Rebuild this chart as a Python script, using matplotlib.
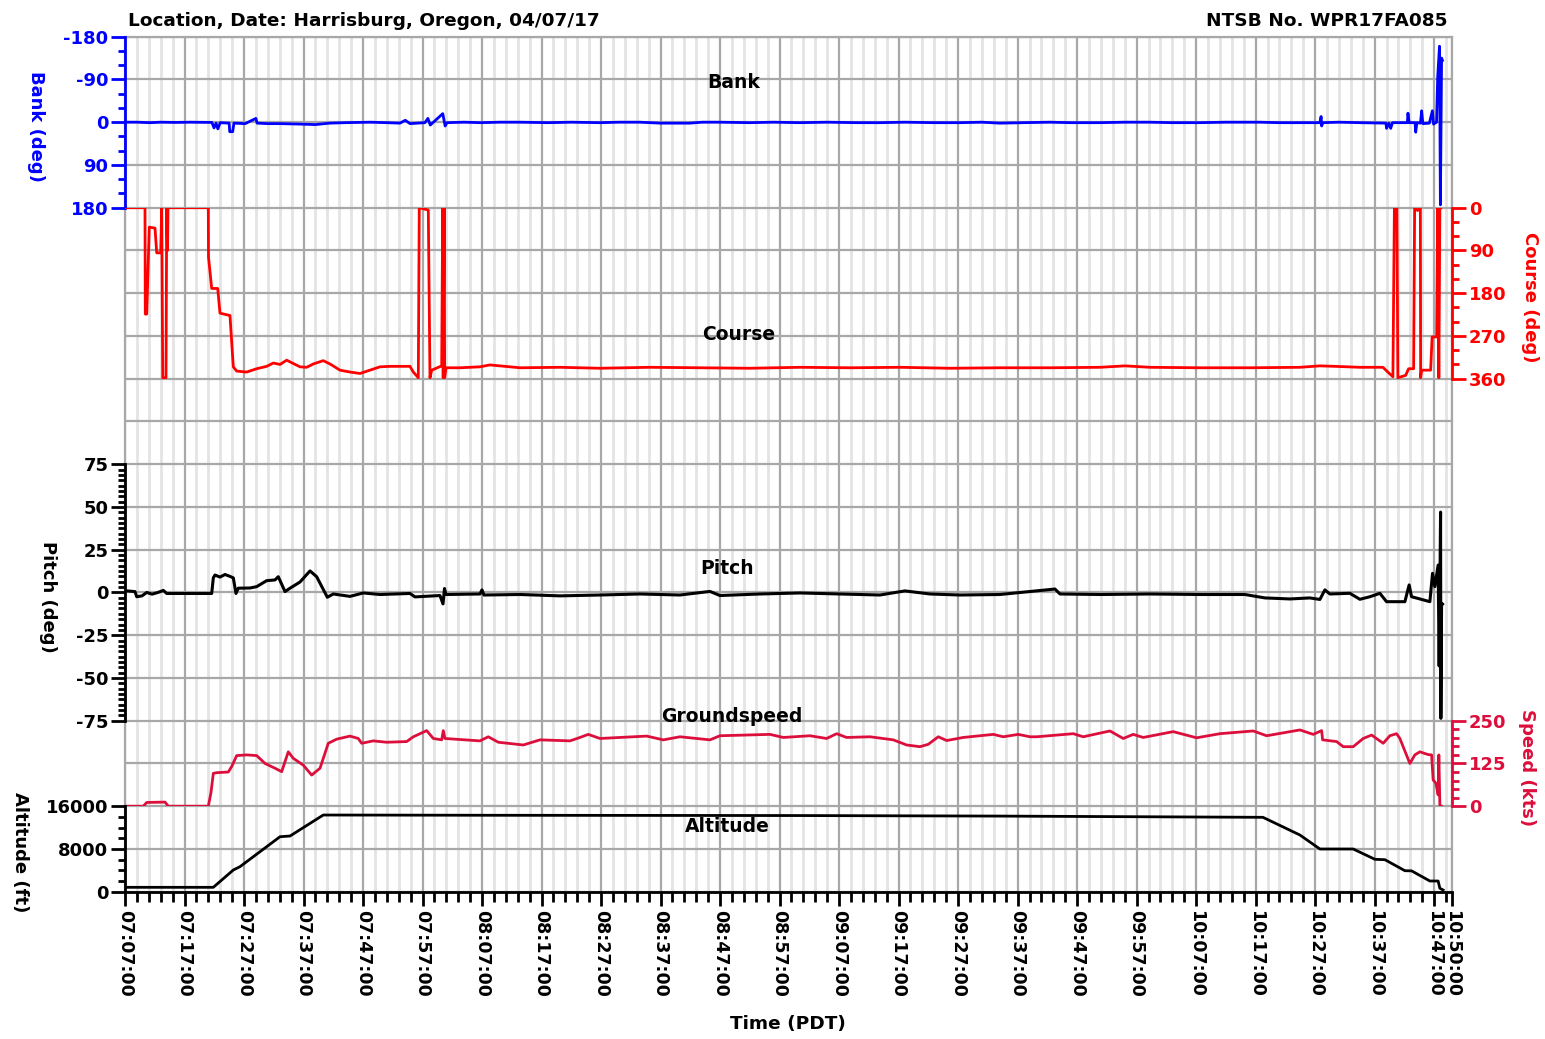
import numpy as np
import matplotlib as mpl
mpl.use('Agg')
import matplotlib.pyplot as plt
from matplotlib.ticker import FixedLocator, MultipleLocator, FuncFormatter

plt.rcParams['font.family'] = ['DejaVu Sans']
plt.rcParams['font.weight'] = 'bold'
plt.rcParams['axes.unicode_minus'] = False

# time in minutes after 07:00 PDT
bank_t = [7.0, 9.0, 11.2, 13.0, 15.4, 18.0, 21.6, 21.96, 22.3, 22.6, 23.0, 24.5, 24.6, 25.1, 25.3,
          27.2, 29.0, 29.2, 31.0, 33.0, 36.4, 39.0, 41.4, 44.0, 48.2, 51.0, 53.2, 54.1, 54.9, 57.4,
          57.9, 58.3, 60.4, 60.8, 61.1, 64.0, 66.7, 70.0, 73.4, 78.0, 82.0, 86.8, 90.0, 93.5, 97.0,
          101.9, 104.0, 107.0, 112.0, 116.0, 120.4, 125.0, 130.0, 133.9, 138.0, 143.0, 147.3, 151.0,
          154.0, 158.0, 162.4, 166.0, 170.8, 175.0, 179.2, 183.0, 187.6, 192.0, 197.7, 201.0, 204.4,
          207.8, 208.0, 208.1, 208.3, 211.0, 214.5, 218.9, 219.0, 219.4, 219.7, 220.0, 222.5, 222.6,
          222.8, 223.8, 223.9, 224.1, 224.7, 224.9, 225.1, 226.2, 226.7, 226.9, 227.4, 227.6, 227.9,
          228.05, 228.25, 228.4]
bank_deg = [0, 0, 1, 0, 0.5, 0, 0.5, 12, 2, 14, 1, 2, 20, 20, 2,
            3, -8, 2, 3, 3, 4, 5, 2, 1, 0, 1, 2, -4, 3, 1,
            -8, 6, -18, 8, 1, 0, 1, 0, 0, 1, 0, 1, 0, 0, 2,
            2, 0, 0, 1, 0, 1, 0, 1, 1, 0, 1, 1, 0,
            2, 1, 0, 1, 1, 0, 0, 1, 1, 0, 0, 1, 1,
            1, -12, 8, 1, 0, 1, 2, 13, 2, 13, 1, 1, -19,
            1, 1, 21, 1, 2, -24, 3, 2, -24, 4, 0, -96, -160,
            174, -135, -130]

course_t = [7.0, 10.36, 10.41, 10.65, 11.08, 12.04, 12.33, 13.0, 13.17, 13.34, 13.89, 14.01, 14.14,
            14.23, 21.0, 21.03, 21.57, 22.58, 22.96, 24.64, 25.2, 25.77, 27.45, 29.13, 30.81, 31.92,
            33.05, 34.17, 35.28, 36.41, 37.53, 38.64, 40.32, 41.45, 43.13, 44.81, 46.49, 48.17, 49.85,
            51.53, 54.89, 55.45, 56.29, 56.45, 57.97, 58.25, 58.54, 60.22, 60.39, 60.47, 60.64, 60.72,
            60.94, 63.29, 66.65, 68.33, 73.38, 80.1, 86.82, 95.22, 103.62, 112.02, 120.43, 128.83,
            137.23, 145.63, 154.03, 162.43, 170.84, 175.04, 179.24, 187.64, 196.04, 204.44, 207.8,
            210.32, 214.52, 218.39, 219.56, 220.07, 220.32, 220.74, 220.9, 222.21, 222.71, 223.55,
            223.72, 224.23, 224.68, 224.73, 224.9, 226.41, 226.66, 227.42, 227.59, 227.79, 227.96, 228.13]
course_deg = [0, 0, 224, 224, 41, 43, 95, 95, 0, 358, 358, 0, 90,
              0, 0, 104, 170, 170, 222, 227, 335, 344, 346, 339, 334, 327,
              330, 321, 328, 335, 336, 329, 322, 329, 342, 346, 349, 342, 335,
              334, 334, 346, 358, 0, 5, 358, 342, 333, 0, 358, 0, 358,
              337, 337, 335, 331, 337, 336, 338, 336, 337, 338, 336, 337,
              336, 338, 337, 337, 336, 333, 336, 337, 337, 336, 333,
              334, 336, 336, 350, 356, 0, 0, 358, 353, 339, 339,
              0, 6, 0, 358, 342, 342, 272, 272, 0, 358, 0, 0]

pitch_t = [7.0, 8.68, 8.97, 9.86, 10.65, 11.54, 12.55, 13.44, 14.01, 21.57, 21.84, 22.12, 22.96, 23.8,
           24.64, 25.2, 25.65, 26.04, 28.0, 29.13, 30.81, 32.2, 32.76, 33.89, 34.73, 36.41, 38.09,
           39.21, 41.0, 42.0, 44.81, 47.04, 49.85, 54.89, 55.73, 59.93, 60.44, 60.69, 60.94, 66.65,
           66.99, 67.32, 73.38, 80.1, 86.82, 93.54, 100.26, 105.3, 106.98, 113.7, 120.43, 127.15,
           133.87, 138.07, 142.27, 147.31, 154.03, 163.28, 164.12, 170.84, 179.24, 187.64, 195.2,
           198.56, 202.76, 206.12, 207.8, 208.64, 209.48, 212.84, 214.52, 216.2, 217.88, 219.0, 222.08,
           222.8, 223.2, 224.6, 226.28, 226.73, 227.12, 227.67, 227.84, 228.08, 228.13, 228.25, 228.41]
pitch_deg = [1.0, 0.5, -2.5, -2, 0, -1, 0, 1.2, -0.6, -0.6, 8.5, 10.2, 9, 10.5,
             9.4, 8.5, -0.6, 2.5, 2.6, 3.4, 6.9, 7.3, 9.2, 0.5, 2.5, 6.1, 12.6,
             9.2, -2.8, -0.9, -2.3, -0.3, -1.2, -0.6, -2.6, -1.8, -6.7, 2.3, -1.2, -0.9,
             1.5, -1.5, -1.2, -2, -1.5, -0.9, -1.5, 0.6, -1.8, -0.9, -0.3, -0.9,
             -1.5, 0.9, -0.9, -1.5, -1.2, 2.0, -0.9, -1.2, -0.9, -1.2, -1.2,
             -3.2, -3.8, -3.2, -4.1, 1.5, -0.9, -0.5, -4, -2.5, -0.5, -5.4, -5.4,
             4.4, -2.5, -3.8, -5.4, 11.2, 3.4, 16, -43, 47, -73.6, -6.3, -6.8]

speed_t = [7.0, 10.08, 10.65, 13.72, 14.28, 21.0, 21.45, 21.84, 22.41, 24.36, 24.93, 25.77, 27.45,
           29.13, 30.53, 32.21, 33.33, 34.44, 35.28, 36.96, 38.37, 39.77, 41.16, 42.57, 44.81, 46.2,
           46.77, 48.72, 50.97, 54.34, 55.45, 57.7, 58.81, 60.22, 60.49, 60.77, 66.65, 68.05, 69.73,
           73.93, 76.74, 81.78, 83.46, 84.85, 86.82, 94.67, 97.46, 100.26, 105.3, 106.98, 115.39,
           117.62, 122.11, 124.91, 126.59, 128.27, 132.19, 136.1, 138.36, 140.59, 141.99, 143.67,
           145.08, 147.87, 152.91, 154.59, 157.11, 159.08, 160.2, 166.35, 168.03, 172.52, 174.75,
           176.43, 178.11, 183.15, 187.08, 190.99, 196.6, 198.85, 204.44, 206.68, 208.09, 208.26,
           210.61, 211.72, 213.4, 215.08, 216.49, 218.44, 219.56, 220.69, 221.24, 222.92, 223.76,
           224.6, 225.97, 226.57, 226.83, 227.29, 227.67, 227.79, 227.96, 228.25]
speed_kts = [0, 0, 11, 12, 0, 0, 40, 96, 98, 100, 116, 148, 150,
             148, 125, 111, 101, 159, 140, 120, 91, 111, 184, 196, 205, 198,
             184, 191, 187, 189, 203, 221, 198, 194, 221, 198, 191, 203, 187,
             179, 194, 191, 201, 210, 198, 205, 194, 203, 194, 206, 210,
             201, 206, 198, 212, 201, 203, 194, 179, 174, 181, 203,
             192, 201, 210, 203, 210, 203, 203, 212, 203, 220, 198,
             210, 201, 218, 200, 212, 220, 206, 223, 210, 221, 194,
             189, 174, 174, 198, 208, 184, 206, 212, 198, 125, 150,
             159, 151, 150, 77, 67, 33, 150, 3, 0]

alt_t = [7.0, 21.84, 25.2, 26.32, 33.05, 34.73, 40.32, 70.01, 120.43, 154.03, 198.23, 204.44, 207.8,
         213.4, 217.05, 218.73, 222.08, 223.21, 226.28, 227.67, 227.96, 228.51]
alt_ft = [820, 820, 4060, 4680, 10290, 10420, 14350, 14300, 14250, 14150, 13920, 10610, 7990,
          7990, 6060, 5990, 3930, 3900, 2000, 2000, 640, 320]

W, H = 1545, 1039
fig = plt.figure(figsize=(W / 100, H / 100), dpi=100)
L, R = 125 / W, 1452 / W
T, B = 1 - 36.7 / H, 1 - 891.7 / H
row = (T - B) / 20
GRID = '#a8a8a8'
FS = 13

ax = fig.add_axes([L, B, R - L, T - B])
ax.set_xlim(7, 230)
ax.set_ylim(0, 20)
ax.set_yticks(range(21))
ax.tick_params(axis='y', length=0, labelleft=False)
ax.xaxis.set_major_locator(FixedLocator(list(range(7, 228, 10)) + [230]))
ax.xaxis.set_minor_locator(MultipleLocator(2, offset=1))
ax.xaxis.set_major_formatter(FuncFormatter(
    lambda t, pos: '%02d:%02d:00' % (7 + int(round(t)) // 60, int(round(t)) % 60)))
ax.tick_params(axis='x', which='major', length=10, width=2, labelsize=12.5, labelrotation=270, pad=3)
ax.tick_params(axis='x', which='minor', length=7, width=2)
ax.grid(axis='x', which='minor', color='#e4e4e4', lw=2)
ax.grid(axis='x', which='major', color=GRID, lw=1.6)
ax.grid(axis='y', color=GRID, lw=1.6)
for s in ['top', 'right', 'left']:
    ax.spines[s].set_color(GRID)
    ax.spines[s].set_linewidth(1.6)
ax.spines['bottom'].set_linewidth(2)


def panel(r0, r1, side, color, ymin, ymax, major, minor):
    a = fig.add_axes([L, T - r1 * row, R - L, (r1 - r0) * row])
    a.patch.set_alpha(0)
    a.set_xlim(7, 230)
    a.set_ylim(ymin, ymax)
    for s in a.spines.values():
        s.set_visible(False)
    a.spines[side].set_visible(True)
    a.spines[side].set_color(color)
    a.spines[side].set_linewidth(2)
    a.tick_params(axis='x', which='both', bottom=False, labelbottom=False)
    a.set_yticks(major)
    a.yaxis.set_minor_locator(MultipleLocator(minor))
    if side == 'right':
        a.yaxis.tick_right()
    a.tick_params(axis='y', which='major', length=10, width=2, color=color,
                  labelcolor=color, labelsize=FS, pad=2)
    a.tick_params(axis='y', which='minor', length=5, width=2, color=color)
    return a


axb = panel(0, 4, 'left', '#0000ff', 180, -180, [-180, -90, 0, 90, 180], 30)
axb.plot(bank_t, bank_deg, color='#0000ff', lw=2)

axc = panel(4, 8, 'right', '#ff0000', 360, 0, [0, 90, 180, 270, 360], 30)
axc.plot(course_t, course_deg, color='#ff0000', lw=2)

axp = panel(10, 16, 'left', 'black', -75, 75, [-75, -50, -25, 0, 25, 50, 75], 3.125)
axp.plot(pitch_t, pitch_deg, color='black', lw=2.2)

axs = panel(16, 18, 'right', '#dc0f3c', 0, 250, [0, 125, 250], 25)
axs.plot(speed_t, speed_kts, color='#dc0f3c', lw=2)

axa = panel(18, 20, 'left', 'black', 0, 16000, [0, 8000, 16000], 2000)
axa.plot(alt_t, alt_ft, color='black', lw=2)


def ftext(x, y, s, **kw):
    fig.text(x / W, 1 - y / H, s, fontweight='bold', **kw)


ftext(36, 126, 'Bank (deg)', color='#0000ff', fontsize=FS, rotation=270, ha='center', va='center')
ftext(1530, 297, 'Course (deg)', color='#ff0000', fontsize=FS, rotation=270, ha='center', va='center')
ftext(48, 597, 'Pitch (deg)', color='black', fontsize=FS, rotation=270, ha='center', va='center')
ftext(1527, 768, 'Speed (kts)', color='#dc0f3c', fontsize=FS, rotation=270, ha='center', va='center')
ftext(20, 852, 'Altitude (ft)', color='black', fontsize=FS, rotation=270, ha='center', va='center')
ftext(788, 1024, 'Time (PDT)', fontsize=13.3, ha='center', va='center')

ftext(128, 21, 'Location, Date: Harrisburg, Oregon, 04/07/17', fontsize=13.3, ha='left', va='center')
ftext(1448, 21, 'NTSB No. WPR17FA085', fontsize=13.3, ha='right', va='center')

for x, y, s in [(734, 82, 'Bank'), (739, 335, 'Course'), (727, 569, 'Pitch'),
                (732, 717, 'Groundspeed'), (727, 826, 'Altitude')]:
    ftext(x, y, s, fontsize=13.5, ha='center', va='center')

fig.savefig('out.png', dpi=100)
